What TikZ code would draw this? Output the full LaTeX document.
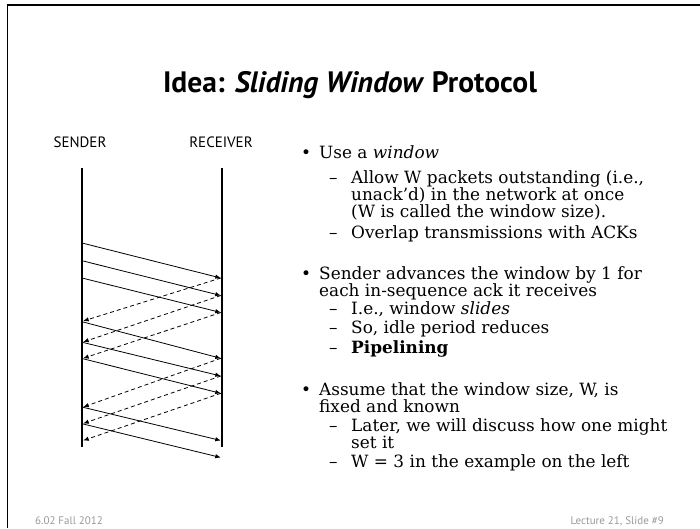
\documentclass[tikz,border=0pt]{standalone}
\usepackage{fontspec}
\setmainfont{DejaVu Serif}
\newfontfamily\titlefont{PT Sans}
\usetikzlibrary{arrows.meta}
\begin{document}
\begin{tikzpicture}[x=1pt,y=-1pt,
  body/.style={anchor=base west,inner sep=0pt,font=\fontsize{16.9}{19}\selectfont},
  lbl/.style={anchor=base,inner sep=0pt,font=\titlefont\fontsize{15}{17}\selectfont},
  foot/.style={inner sep=0pt,font=\titlefont\fontsize{11}{13}\selectfont,text=black!40},
  life/.style={line width=2.4pt},
  msg/.style={line width=0.8pt,-{Latex[length=5.5pt,width=4.5pt]}},
  ack/.style={msg,dashed,dash pattern=on 4pt off 3pt}]
\useasboundingbox (0,0) rectangle (700,528);
\draw[line width=1.6pt] (7.5,528) -- (7.5,4.8) -- (700,4.8);
% title
\node[anchor=base,inner sep=0pt,font=\titlefont\bfseries\fontsize{29.5}{32}\selectfont] (title) at (350,92) {Idea: \textit{Sliding Window} Protocol};
% labels
\node[lbl] (snd) at (80,147) {SENDER};
\node[lbl] (rcv) at (221,147) {RECEIVER};
% lifelines
\coordinate (s0) at (82,167.5);
\coordinate (s1) at (82,447);
\coordinate (r0) at (222,167.5);
\coordinate (r1) at (222,447);
\draw[life] (s0) -- (s1);
\draw[life] (r0) -- (r1);
% sender events
\foreach \n/\y in {a/243.3,b/261,c/278.3,d/322,e/342.5,f/358.8,g/407.3,h/424}
  \coordinate (S\n) at (83.2,\y);
% receiver events
\foreach \n/\y in {a/278,b/295.5,c/312.5,d/358.3,e/376,f/393.3,g/440.5,h/457.5}
  \coordinate (R\n) at (220.8,\y);
% ack arrivals at sender
\foreach \n/\y in {a/321,b/342,c/358.3,d/407,e/423.5,f/440.5}
  \coordinate (A\n) at (83.2,\y);
% data packets
\foreach \n in {a,b,c,d,e,f,g,h}
  \draw[msg] (S\n) -- (R\n);
% acks
\draw[ack] (Ra) -- (Aa);
\draw[ack] (Rb) -- (Ab);
\draw[ack] (Rc) -- (Ac);
\draw[ack] (Rd) -- (Ad);
\draw[ack] (Re) -- (Ae);
\draw[ack] (Rf) -- (Af);
% text
\node[body] (b1) at (301,158) {•};
\node[body] (t1) at (319,158) {Use a \textit{window}};
\node[body] (t2d) at (329,183) {–};
\node[body] (t2) at (351,183) {Allow W packets outstanding (i.e.,};
\node[body] (t3) at (351,200) {unack’d) in the network at once};
\node[body] (t4) at (351,217) {(W is called the window size).};
\node[body] (t5d) at (329,238) {–};
\node[body] (t5) at (351,238) {Overlap transmissions with ACKs};
\node[body] (b2) at (301,279) {•};
\node[body] (t6) at (319,279) {Sender advances the window by 1 for};
\node[body] (t7) at (319,296) {each in-sequence ack it receives};
\node[body] (t8d) at (329,314) {–};
\node[body] (t8) at (351,314) {I.e., window \textit{slides}};
\node[body] (t9d) at (329,333) {–};
\node[body] (t9) at (351,333) {So, idle period reduces};
\node[body] (t10d) at (329,353) {–};
\node[body] (t10) at (351,353) {\textbf{Pipelining}};
\node[body] (b3) at (301,395) {•};
\node[body] (t11) at (319,395) {Assume that the window size, W, is};
\node[body] (t12) at (319,412) {fixed and known};
\node[body] (t13d) at (329,431) {–};
\node[body] (t13) at (351,431) {Later, we will discuss how one might};
\node[body] (t14) at (351,448) {set it};
\node[body] (t15d) at (329,467) {–};
\node[body] (t15) at (351,467) {W = 3 in the example on the left};
% footer
\node[foot,anchor=base west] (f1) at (35,524) {6.02 Fall 2012};
\node[foot,anchor=base east] (f2) at (664,524) {Lecture 21, Slide \#9};
\end{tikzpicture}
\end{document}
